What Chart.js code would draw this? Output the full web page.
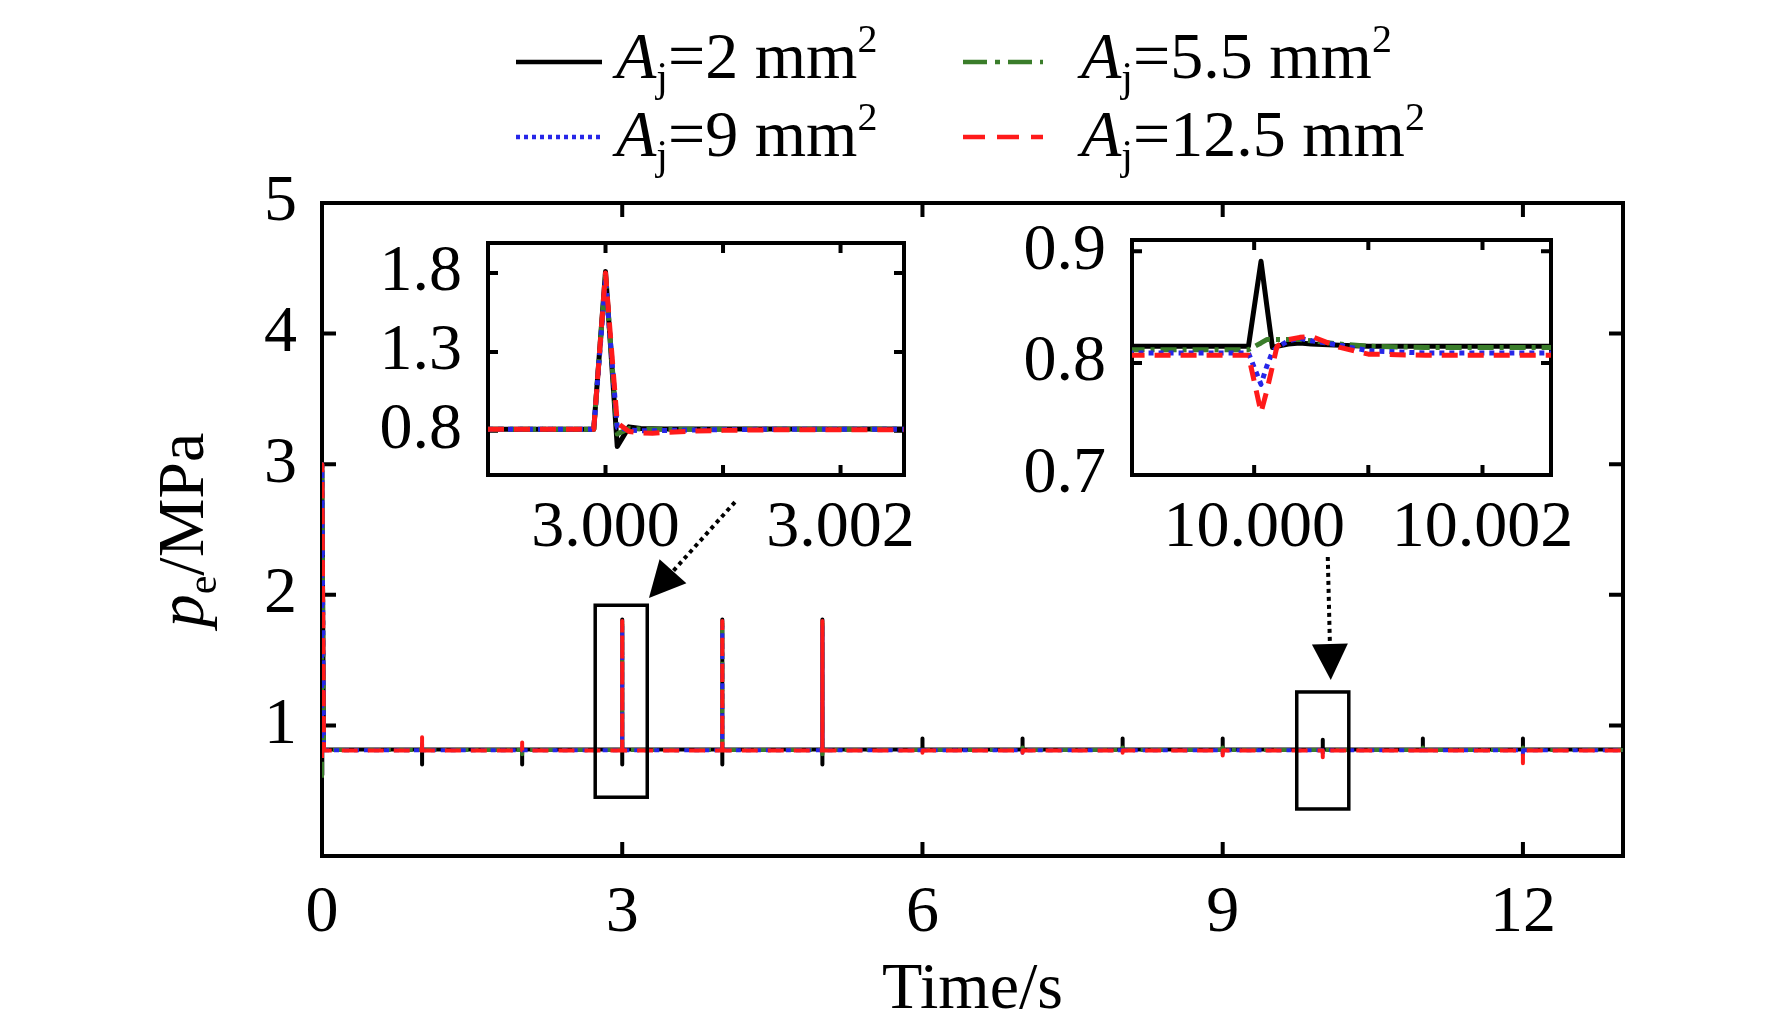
<!DOCTYPE html>
<html>
<head>
<meta charset="utf-8">
<script src="https://cdn.jsdelivr.net/npm/chart.js@4.4.0/dist/chart.umd.min.js"></script>
<style>
  body { margin: 0; background: #fff; }
  #wrap { position: relative; width: 1772px; height: 1030px; }
  canvas { position: absolute; }
</style>
</head>
<body>
<div id="wrap">
  <canvas id="main" width="1772" height="1030" style="left:0;top:0"></canvas>
  <canvas id="zoom3" width="580" height="380" style="left:360px;top:225px"></canvas>
  <canvas id="zoom10" width="600" height="380" style="left:1000px;top:222px"></canvas>
</div>
<script>
// jet area A_j (mm2) of each curve
const areas = ["2", "5.5", "9", "12.5"];
const colors = ["#000000", "#3a7d2a", "#2626e8", "#ff1a1a"];
const dashes = [[], [16, 6, 4, 6], [5, 5], [16, 10]];
const legendDashes = [[], [24, 8, 5, 8], [4, 4], [22, 12]];

// whole run, time in s, p_e in MPa
const mainTime = [0, 0.003, 0.02,
  0.9999, 1, 1.0002,
  1.9999, 2, 2.0002,
  2.9999, 3, 3.0001, 3.0002,
  3.9999, 4, 4.0001, 4.0002,
  4.9999, 5, 5.0001, 5.0002,
  5.9999, 6, 6.0002,
  6.9999, 7, 7.0002,
  7.9999, 8, 8.0002,
  8.9999, 9, 9.0002,
  9.9999, 10, 10.0002,
  10.9999, 11, 11.0002,
  11.9999, 12, 12.0002,
  13];
const mainA2 = [0.62, 3.0, 0.815,
  0.815, 0.70, 0.815,
  0.815, 0.70, 0.815,
  0.815, 1.81, 0.70, 0.815,
  0.815, 1.81, 0.70, 0.815,
  0.815, 1.81, 0.70, 0.815,
  0.815, 0.90, 0.815,
  0.815, 0.90, 0.815,
  0.815, 0.90, 0.815,
  0.815, 0.90, 0.815,
  0.815, 0.89, 0.815,
  0.815, 0.90, 0.815,
  0.815, 0.90, 0.815,
  0.815];
const mainA55 = [0.60, 3.0, 0.812,
  0.812, 0.78, 0.812,
  0.812, 0.78, 0.812,
  0.812, 1.78, 0.78, 0.812,
  0.812, 1.78, 0.78, 0.812,
  0.812, 1.78, 0.78, 0.812,
  0.812, 0.83, 0.812,
  0.812, 0.83, 0.812,
  0.812, 0.83, 0.812,
  0.812, 0.83, 0.812,
  0.812, 0.821, 0.812,
  0.812, 0.83, 0.812,
  0.812, 0.83, 0.812,
  0.812];
const mainA9 = [0.75, 3.0, 0.809,
  0.809, 0.86, 0.809,
  0.809, 0.84, 0.809,
  0.809, 1.76, 0.82, 0.809,
  0.809, 1.76, 0.82, 0.809,
  0.809, 1.76, 0.82, 0.809,
  0.809, 0.79, 0.809,
  0.809, 0.79, 0.809,
  0.809, 0.79, 0.809,
  0.809, 0.785, 0.809,
  0.809, 0.781, 0.809,
  0.809, 0.785, 0.809,
  0.809, 0.77, 0.809,
  0.809];
const mainA125 = [0.75, 3.0, 0.807,
  0.807, 0.91, 0.807,
  0.807, 0.87, 0.807,
  0.807, 1.80, 0.85, 0.807,
  0.807, 1.80, 0.85, 0.807,
  0.807, 1.80, 0.85, 0.807,
  0.807, 0.79, 0.807,
  0.807, 0.79, 0.807,
  0.807, 0.79, 0.807,
  0.807, 0.77, 0.807,
  0.807, 0.756, 0.807,
  0.807, 0.76, 0.807,
  0.807, 0.71, 0.807,
  0.807];

// zoom around t = 3 s
const zoom3Time = [2.999, 2.9999, 3.0, 3.0001, 3.0002, 3.0003, 3.0004, 3.0005, 3.0007, 3.001, 3.0015, 3.00254];
const zoom3A2 = [0.81, 0.81, 1.81, 0.70, 0.825, 0.815, 0.813, 0.812, 0.812, 0.812, 0.812, 0.812];
const zoom3A55 = [0.81, 0.81, 1.78, 0.78, 0.815, 0.812, 0.81, 0.81, 0.81, 0.81, 0.81, 0.81];
const zoom3A9 = [0.81, 0.81, 1.76, 0.82, 0.805, 0.80, 0.80, 0.802, 0.805, 0.808, 0.81, 0.81];
const zoom3A125 = [0.81, 0.81, 1.80, 0.85, 0.795, 0.787, 0.785, 0.79, 0.797, 0.803, 0.807, 0.807];
const zoom3XTicks = [3.000, 3.001, 3.002];
const zoom3XLabels = ["3.000", "", "3.002"];
const zoom3YTicks = [0.8, 1.3, 1.8];

// zoom around t = 10 s
const zoom10Time = [9.9989, 9.99995, 10.00006, 10.00011, 10.00016, 10.0002, 10.0003, 10.0004, 10.0005, 10.00075, 10.001, 10.0015, 10.0026];
const zoom10A2 = [0.815, 0.815, 0.891, 0.852, 0.814, 0.815, 0.817, 0.818, 0.817, 0.816, 0.815, 0.815, 0.815];
const zoom10A55 = [0.812, 0.812, 0.818, 0.821, 0.821, 0.821, 0.821, 0.821, 0.820, 0.817, 0.815, 0.814, 0.814];
const zoom10A9 = [0.809, 0.809, 0.781, 0.797, 0.810, 0.814, 0.820, 0.822, 0.820, 0.816, 0.811, 0.809, 0.809];
const zoom10A125 = [0.807, 0.807, 0.756, 0.775, 0.797, 0.815, 0.821, 0.823, 0.824, 0.814, 0.808, 0.807, 0.807];
const zoom10XTicks = [10.000, 10.001, 10.002];
const zoom10XLabels = ["10.000", "", "10.002"];
const zoom10YTicks = [0.7, 0.8, 0.9];

// marked windows [x0, x1, y0, y1] and arrows [x0, y0, x1, y1] in main axis units
const boxes = [[2.73, 3.25, 0.45, 1.92], [9.74, 10.26, 0.36, 1.256]];
const arrows = [[4.126, 2.71, 3.267, 1.975], [10.05, 2.29, 10.08, 1.348]];

const SERIF = "'Liberation Serif', 'Times New Roman', serif";
Chart.defaults.font.family = SERIF;
Chart.defaults.color = "#000";

function makeSets(time, series, width) {
  return series.map((vals, i) => ({
    label: "Aj=" + areas[i] + " mm2",
    data: time.map((t, k) => ({ x: t, y: vals[k] })),
    borderColor: colors[i],
    borderDash: dashes[i],
    borderWidth: width,
    borderJoinStyle: "round",
    pointRadius: 0,
    tension: 0,
    fill: false,
    order: 4 - i
  }));
}

// italic / normal / sub / sup pieces drawn one after the other
function drawRich(ctx, parts, x, y, dry) {
  let cx = x;
  for (const [txt, kind] of parts) {
    let size = 66, dy = 0, style = "";
    if (kind === "i") style = "italic ";
    if (kind === "sub") { size = 42; dy = 13; }
    if (kind === "sup") { size = 40; dy = -26; }
    ctx.font = style + size + "px " + SERIF;
    if (!dry) ctx.fillText(txt, cx, y + dy);
    cx += ctx.measureText(txt).width;
  }
  return cx - x;
}

// boxed axes with inward ticks on all four sides, under the curves
const framePlugin = {
  id: "frame",
  beforeDatasetsDraw(chart, args, opts) {
    const { ctx, chartArea: a, scales: { x, y } } = chart;
    ctx.save();
    ctx.strokeStyle = "#000";
    ctx.lineWidth = opts.width;
    ctx.setLineDash([]);
    ctx.strokeRect(a.left, a.top, a.right - a.left, a.bottom - a.top);
    ctx.beginPath();
    x.ticks.forEach(t => {
      const px = x.getPixelForValue(t.value);
      ctx.moveTo(px, a.bottom); ctx.lineTo(px, a.bottom - opts.tick);
      ctx.moveTo(px, a.top); ctx.lineTo(px, a.top + opts.tick);
    });
    y.ticks.forEach(t => {
      const py = y.getPixelForValue(t.value);
      ctx.moveTo(a.left, py); ctx.lineTo(a.left + opts.tick, py);
      ctx.moveTo(a.right, py); ctx.lineTo(a.right - opts.tick, py);
    });
    ctx.stroke();
    ctx.restore();
  }
};

const decorPlugin = {
  id: "decor",
  afterDraw(chart) {
    const { ctx, scales: { x, y } } = chart;
    ctx.save();
    ctx.strokeStyle = "#000";
    ctx.fillStyle = "#000";
    // zoom windows
    ctx.lineWidth = 3.5;
    boxes.forEach(([x0, x1, y0, y1]) => {
      const l = x.getPixelForValue(x0), r = x.getPixelForValue(x1);
      const t = y.getPixelForValue(y1), b = y.getPixelForValue(y0);
      ctx.strokeRect(l, t, r - l, b - t);
    });
    // dotted arrows
    arrows.forEach(([ax, ay, bx, by]) => {
      const x0 = x.getPixelForValue(ax), y0 = y.getPixelForValue(ay);
      const x1 = x.getPixelForValue(bx), y1 = y.getPixelForValue(by);
      const len = Math.hypot(x1 - x0, y1 - y0);
      const ux = (x1 - x0) / len, uy = (y1 - y0) / len;
      const head = 36, half = 18;
      const hx = x1 - ux * head, hy = y1 - uy * head;
      ctx.lineWidth = 4;
      ctx.setLineDash([4, 4]);
      ctx.beginPath();
      ctx.moveTo(x0, y0);
      ctx.lineTo(hx, hy);
      ctx.stroke();
      ctx.setLineDash([]);
      ctx.beginPath();
      ctx.moveTo(x1, y1);
      ctx.lineTo(hx - uy * half, hy + ux * half);
      ctx.lineTo(hx + uy * half, hy - ux * half);
      ctx.closePath();
      ctx.fill();
    });
    // legend, two columns
    const lineX = [516, 963], lineLen = [86, 80], textX = [616, 1081];
    const lineY = [62, 137], baseY = [78, 156];
    ctx.textBaseline = "alphabetic";
    ctx.textAlign = "left";
    chart.data.datasets.forEach((ds, i) => {
      const col = i % 2, row = Math.floor(i / 2);
      ctx.strokeStyle = ds.borderColor;
      ctx.lineWidth = 4.5;
      ctx.setLineDash(legendDashes[i]);
      ctx.beginPath();
      ctx.moveTo(lineX[col], lineY[row]);
      ctx.lineTo(lineX[col] + lineLen[col], lineY[row]);
      ctx.stroke();
      ctx.setLineDash([]);
      ctx.fillStyle = "#000";
      drawRich(ctx, [["A", "i"], ["j", "sub"], ["=" + areas[i] + " mm", "n"], ["2", "sup"]],
        textX[col], baseY[row]);
    });
    // y title p_e/MPa, rotated
    const yTitle = [["p", "i"], ["e", "sub"], ["/MPa", "n"]];
    const w = drawRich(ctx, yTitle, 0, 0, true);
    ctx.translate(203, 530);
    ctx.rotate(-Math.PI / 2);
    drawRich(ctx, yTitle, -w / 2, 0);
    ctx.restore();
  }
};

function fixY(width) {
  return s => { s.width = width; s.paddingTop = 0; s.paddingBottom = 0; };
}
function fixX(height) {
  return s => { s.height = height; s.paddingLeft = 0; s.paddingRight = 0; };
}

new Chart(document.getElementById("main"), {
  type: "line",
  data: { datasets: makeSets(mainTime, [mainA2, mainA55, mainA9, mainA125], 4) },
  options: {
    responsive: false,
    animation: false,
    devicePixelRatio: 1,
    events: [],
    layout: { padding: { top: 203, right: 149, left: 0, bottom: 0 } },
    plugins: { legend: { display: false }, tooltip: { enabled: false }, frame: { width: 4, tick: 14 } },
    scales: {
      x: {
        type: "linear", min: 0, max: 13,
        grid: { display: false, drawTicks: false }, border: { display: false },
        ticks: { stepSize: 3, includeBounds: false, autoSkip: false, maxRotation: 0,
          padding: 18, font: { size: 66 } },
        title: { display: true, text: "Time/s", font: { size: 66 }, color: "#000", padding: { top: 0, bottom: 0 } },
        afterFit: fixX(174)
      },
      y: {
        min: 0, max: 5,
        grid: { display: false, drawTicks: false }, border: { display: false },
        ticks: { stepSize: 1, autoSkip: false, padding: 25, font: { size: 66 },
          callback: v => (v === 0 ? "" : v) },
        afterFit: fixY(322)
      }
    }
  },
  plugins: [framePlugin, decorPlugin]
});

function makeZoom(id, time, series, xr, yr, xTicks, xLabels, yTicks, box) {
  new Chart(document.getElementById(id), {
    type: "line",
    data: { datasets: makeSets(time, series, 5) },
    options: {
      responsive: false,
      animation: false,
      devicePixelRatio: 1,
      events: [],
      layout: { padding: { top: box.top, right: box.right, left: 0, bottom: 0 } },
      plugins: { legend: { display: false }, tooltip: { enabled: false }, frame: { width: 4, tick: 10 } },
      scales: {
        x: {
          type: "linear", min: xr[0], max: xr[1],
          grid: { display: false, drawTicks: false }, border: { display: false },
          afterBuildTicks: s => { s.ticks = xTicks.map(v => ({ value: v })); },
          ticks: { autoSkip: false, maxRotation: 0, padding: 14, font: { size: 66 },
            callback: (v, i) => xLabels[i] },
          afterFit: fixX(box.bottom)
        },
        y: {
          min: yr[0], max: yr[1],
          grid: { display: false, drawTicks: false }, border: { display: false },
          afterBuildTicks: s => { s.ticks = yTicks.map(v => ({ value: v })); },
          ticks: { autoSkip: false, padding: 26, font: { size: 66 },
            callback: v => v.toFixed(1) },
          afterFit: fixY(box.left)
        }
      }
    },
    plugins: [framePlugin]
  });
}

makeZoom("zoom3", zoom3Time, [zoom3A2, zoom3A55, zoom3A9, zoom3A125],
  [2.999, 3.00254], [0.52, 1.99], zoom3XTicks, zoom3XLabels, zoom3YTicks,
  { left: 128, top: 18, right: 36, bottom: 130 });
makeZoom("zoom10", zoom10Time, [zoom10A2, zoom10A55, zoom10A9, zoom10A125],
  [9.99893, 10.0026], [0.70, 0.91], zoom10XTicks, zoom10XLabels, zoom10YTicks,
  { left: 132, top: 18, right: 49, bottom: 127 });
</script>
</body>
</html>
